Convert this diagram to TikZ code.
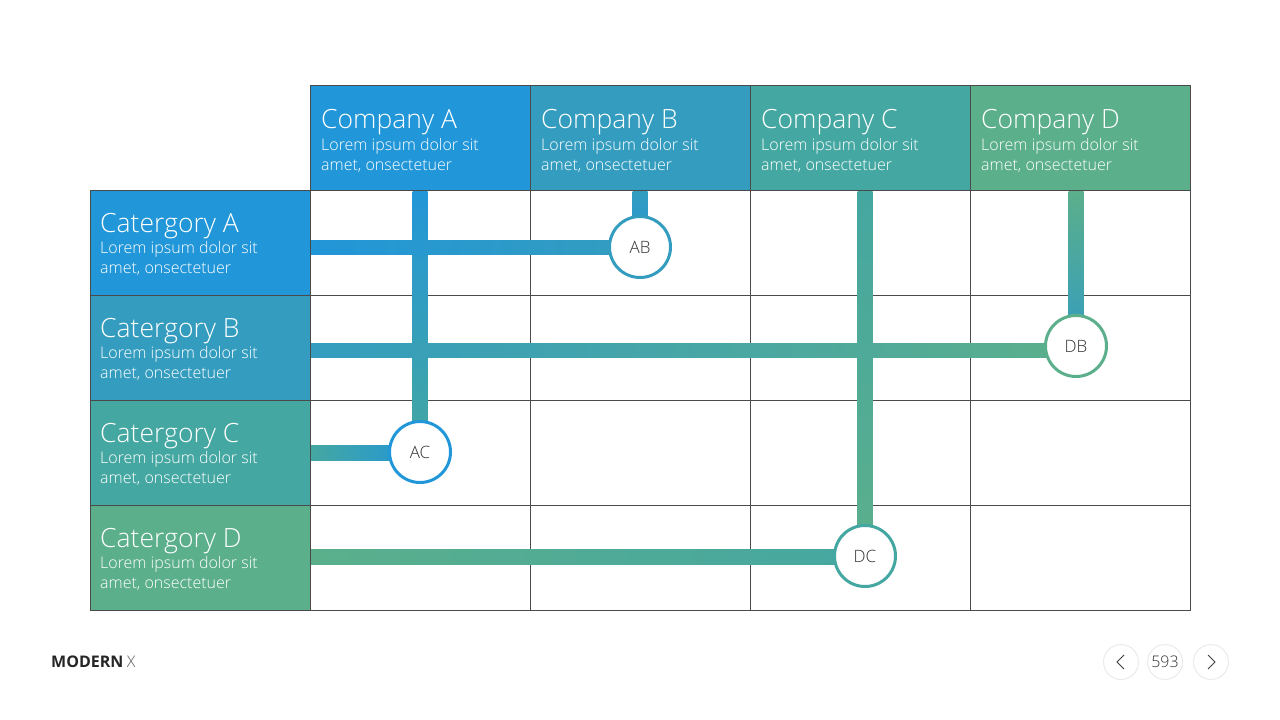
\documentclass[tikz,border=0pt]{standalone}
\usepackage{fontspec}
\setmainfont{Open Sans}
\newfontfamily\lightfont{Open Sans Light}
\usetikzlibrary{calc,positioning}
\definecolor{compA}{HTML}{2196D8}
\definecolor{compB}{HTML}{349DBF}
\definecolor{compC}{HTML}{45A7A1}
\definecolor{compD}{HTML}{5BAF8B}
\definecolor{gridline}{HTML}{4A4A4A}
\tikzset{
    cell/.style={draw=gridline,line width=1pt,minimum width=220pt,minimum height=105pt,inner sep=0pt,anchor=north west},
    ttl/.style={anchor=base west,inner sep=0pt,text=white,font=\lightfont\fontsize{26.5}{30}\selectfont},
    sub/.style={anchor=base west,inner sep=0pt,text=white,font=\lightfont\fontsize{16}{20}\selectfont},
    dot/.style={circle,fill=white,line width=3pt,minimum size=61pt,inner sep=0pt,text=black!80,font=\lightfont\fontsize{17}{20}\selectfont},
    navbtn/.style={circle,draw=black!8,line width=1pt,minimum size=35pt,inner sep=0pt,font=\lightfont\fontsize{16}{20}\selectfont,text=black!80}
}
\begin{document}
\begin{tikzpicture}[x=1pt,y=-1pt]
    \useasboundingbox[fill=white] (0,0) rectangle (1280,720);
    % table body
    \foreach \c in {1,...,4}
        \foreach \r in {1,...,4}
            \node[cell] (g\c\r) at (90+220*\c,85+105*\r) {};
    % company headers
    \foreach \i/\nm in {1/A,2/B,3/C,4/D} {
        \node[cell,fill=comp\nm] (h\nm) at (90+220*\i,85) {};
        \node[ttl] at ($(h\nm.north west)+(11,43)$) {Company \nm};
        \node[sub] at ($(h\nm.north west)+(11,65)$) {Lorem ipsum dolor sit};
        \node[sub] at ($(h\nm.north west)+(11,85)$) {amet, onsectetuer};
    }
    % category rows
    \foreach \i/\nm in {1/A,2/B,3/C,4/D} {
        \node[cell,fill=comp\nm] (c\nm) at (90,85+105*\i) {};
        \node[ttl] at ($(c\nm.north west)+(10,42)$) {Catergory \nm};
        \node[sub] at ($(c\nm.north west)+(10,63)$) {Lorem ipsum dolor sit};
        \node[sub] at ($(c\nm.north west)+(10,83)$) {amet, onsectetuer};
    }
    % meeting points
    \coordinate (ab) at (640,247);
    \coordinate (ac) at (420,452);
    \coordinate (db) at (1076,346);
    \coordinate (dc) at (865,556);
    % vertical bars
    \shade[top color=compA,bottom color=compC] ($(hA.south-|ac)+(-7.5,0)$) rectangle ($(ac)+(7.5,0)$);
    \shade[top color=compB,bottom color=compA] ($(hB.south-|ab)+(-7.5,0)$) rectangle ($(ab)+(7.5,0)$);
    \shade[top color=compC,bottom color=compD] ($(hC.south-|dc)+(-7.5,0)$) rectangle ($(dc)+(7.5,0)$);
    \shade[top color=compD,bottom color=compB] ($(hD.south-|db)+(-7.5,0)$) rectangle ($(db)+(7.5,0)$);
    % horizontal bars
    \shade[left color=compA,right color=compB] ($(cA.east|-ab)+(0,-7)$) rectangle ($(ab)+(0,7)$);
    \shade[left color=compB,right color=compD] ($(cB.east|-db)+(0,-3)$) rectangle ($(db)+(0,11)$);
    \shade[left color=compC,right color=compA] ($(cC.east|-ac)+(0,-7)$) rectangle ($(ac)+(0,8)$);
    \shade[left color=compD,right color=compC] ($(cD.east|-dc)+(0,-7)$) rectangle ($(dc)+(0,8)$);
    % circles
    \node[dot,draw=compB] (nab) at (ab) {AB};
    \node[dot,draw=compA] (nac) at (ac) {AC};
    \node[dot,draw=compD] (ndb) at (db) {DB};
    \node[dot,draw=compC] (ndc) at (dc) {DC};
    % footer
    \node[anchor=west,inner sep=0pt,font=\fontsize{16}{18}\selectfont\bfseries,text=black!85] (brand) at (51,662) {MODERN};
    \node[anchor=west,inner sep=0pt,font=\lightfont\fontsize{16}{18}\selectfont,text=black!65] (brandx) at ($(brand.east)+(3,0)$) {X};
    \node[navbtn] (prev) at (1121,662) {};
    \node[navbtn] (page) at (1165,662) {593};
    \node[navbtn] (next) at (1211,662) {};
    \draw[black!75,line width=1pt] ($(prev)+(3,-7)$) -- ($(prev)+(-4,0)$) -- ($(prev)+(3,7)$);
    \draw[black!75,line width=1pt] ($(next)+(-3,-7)$) -- ($(next)+(4,0)$) -- ($(next)+(-3,7)$);
\end{tikzpicture}
\end{document}
